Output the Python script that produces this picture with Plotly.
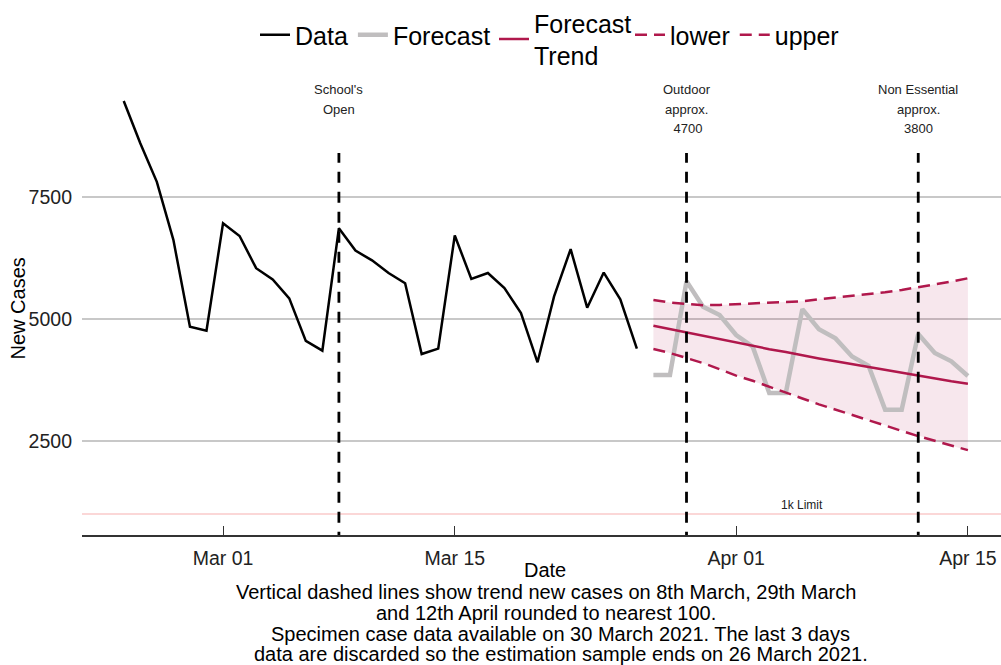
import pandas as pd
import plotly.graph_objects as go

# ---- data ----
data_start = "2021-02-23"
data_values = [9467, 8600, 7810, 6620, 4840, 4760, 6960, 6700, 6040, 5810,
               5420, 4550, 4350, 6860, 6400, 6200, 5940, 5730, 4280, 4390,
               6710, 5820, 5940, 5630, 5120, 4110, 5460, 6430, 5230, 5950,
               5400, 4390]

fc_start = "2021-03-27"
forecast_values = [3850, 3850, 5770, 5250, 5080, 4670, 4430, 3480, 3480, 5200,
                   4790, 4600, 4230, 4040, 3140, 3140, 4690, 4300, 4130, 3830]
trend_values = [4860, 4790, 4720, 4650, 4580, 4510, 4450, 4380, 4320, 4250,
                4190, 4130, 4070, 4010, 3950, 3890, 3830, 3780, 3720, 3670]
upper_values = [5389, 5334, 5307, 5280, 5287, 5301, 5307, 5321, 5342, 5363,
                5403, 5437, 5471, 5506, 5547, 5594, 5649, 5703, 5765, 5833]
lower_values = [4383, 4301, 4198, 4095, 3968, 3837, 3731, 3605, 3494, 3368,
                3249, 3137, 3028, 2920, 2813, 2705, 2597, 2505, 2400, 2309]

vline_dates = ["2021-03-08", "2021-03-29", "2021-04-12"]
vline_top = 8400
vline_labels = [["School's", "Open"], ["Outdoor", "approx.", " 4700"],
                ["Non Essential", "approx.", "3800"]]

limit_value = 1000
limit_label = "1k Limit"
limit_label_date = "2021-04-05"

x_tick_vals = ["2021-03-01", "2021-03-15", "2021-04-01", "2021-04-15"]
x_tick_text = ["Mar 01", "Mar 15", "Apr 01", "Apr 15"]
y_tick_vals = [2500, 5000, 7500]

caption_lines = [
    "Vertical dashed lines show trend new cases on 8th March, 29th March",
    "and 12th April rounded to nearest 100.",
    "Specimen case data available on 30 March 2021. The last 3 days",
    "data are discarded so the estimation sample ends on 26 March 2021.",
]

x_range = ["2021-02-20 11:30", "2021-04-17 00:00"]
y_range = [570, 10000]

# ---- build ----
data_dates = pd.date_range(data_start, periods=len(data_values), freq="D")
fc_dates = pd.date_range(fc_start, periods=len(forecast_values), freq="D")

FONT = "Liberation Sans, Arial, sans-serif"
CRIMSON = "rgb(176,24,76)"

# layout geometry (pixels)
W, H = 1001, 665
ML, MR, MT, MB = 82, 0, 75, 130
PW, PH = W - ML - MR, H - MT - MB


def px_x(p):
    return (p - ML) / PW


def px_y(p):
    return (H - MB - p) / PH


fig = go.Figure()

# 1k limit line
fig.add_trace(go.Scatter(x=[pd.Timestamp("2021-02-01"), pd.Timestamp("2021-05-01")],
                         y=[limit_value, limit_value], mode="lines",
                         line=dict(color="rgba(240,120,120,0.4)", width=1.5),
                         showlegend=False, hoverinfo="skip"))

# ribbon
fig.add_trace(go.Scatter(x=list(fc_dates) + list(fc_dates[::-1]),
                         y=upper_values + lower_values[::-1],
                         fill="toself", fillcolor="rgba(176,24,76,0.10)",
                         line=dict(width=0), mode="lines",
                         showlegend=False, hoverinfo="skip"))

fig.add_trace(go.Scatter(x=fc_dates, y=forecast_values, mode="lines",
                         name="Forecast", legend="legend", legendrank=2,
                         line=dict(color="rgb(192,190,191)", width=4.5)))

fig.add_trace(go.Scatter(x=data_dates, y=data_values, mode="lines",
                         name="Data", legend="legend", legendrank=1,
                         line=dict(color="black", width=2.5)))

fig.add_trace(go.Scatter(x=fc_dates, y=trend_values, mode="lines",
                         name="Forecast<br>Trend", legend="legend2",
                         line=dict(color=CRIMSON, width=2.5)))
fig.add_trace(go.Scatter(x=fc_dates, y=lower_values, mode="lines",
                         name="lower", legend="legend3", legendrank=1,
                         line=dict(color=CRIMSON, width=2.5, dash="12px,7px")))
fig.add_trace(go.Scatter(x=fc_dates, y=upper_values, mode="lines",
                         name="upper", legend="legend3", legendrank=2,
                         line=dict(color=CRIMSON, width=2.5, dash="12px,7px")))

for d in vline_dates:
    fig.add_trace(go.Scatter(x=[d, d], y=[0, vline_top], mode="lines",
                             line=dict(color="black", width=2.8, dash="11px,9px"),
                             showlegend=False, hoverinfo="skip"))

annotations = []
for d, lines in zip(vline_dates, vline_labels):
    for i, t in enumerate(lines):
        annotations.append(dict(x=d, y=px_y(80), xref="x", yref="paper", text=t,
                                showarrow=False, yanchor="top", xanchor="center",
                                yshift=-19.5 * i,
                                font=dict(family=FONT, size=13, color="#222")))

annotations.append(dict(x=limit_label_date, y=limit_value, xref="x", yref="y",
                        text=limit_label, showarrow=False, yanchor="bottom",
                        font=dict(family=FONT, size=12, color="#222")))

# axis titles and caption
annotations.append(dict(x=px_x(545), y=px_y(570), xref="paper", yref="paper",
                        text="Date", showarrow=False, yanchor="middle",
                        borderpad=0,
                        font=dict(family=FONT, size=20, color="black")))
cap_y = [592, 613, 634, 654]
cap_x = [546, 546, 560, 561]
for t, py, pxx in zip(caption_lines, cap_y, cap_x):
    annotations.append(dict(x=px_x(pxx), y=px_y(py),
                            xref="paper", yref="paper", text=t, showarrow=False,
                            yanchor="middle", xanchor="center", borderpad=0,
                            font=dict(family=FONT, size=20, color="black")))
annotations.append(dict(x=px_x(17.5), y=px_y(309), xref="paper", yref="paper",
                        text="New Cases", textangle=-90, showarrow=False,
                        xanchor="center", yanchor="middle",
                        font=dict(family=FONT, size=20, color="black")))

legend_font = dict(family=FONT, size=25, color="black")
fig.update_layout(
    width=W, height=H,
    margin=dict(l=ML, r=MR, t=MT, b=MB),
    plot_bgcolor="white", paper_bgcolor="white",
    font=dict(family=FONT, color="#222"),
    showlegend=True,
    legend=dict(orientation="h", x=px_x(255), xanchor="left", y=px_y(35),
                yanchor="middle", font=legend_font, itemwidth=30,
                bgcolor="rgba(0,0,0,0)"),
    legend2=dict(orientation="h", x=px_x(494), xanchor="left", y=px_y(0),
                 yanchor="top", font=legend_font, itemwidth=30,
                 bgcolor="rgba(0,0,0,0)"),
    legend3=dict(orientation="h", x=px_x(630), xanchor="left", y=px_y(35),
                 yanchor="middle", font=legend_font, itemwidth=30,
                 bgcolor="rgba(0,0,0,0)"),
    annotations=annotations,
    xaxis=dict(range=x_range, type="date", tickvals=x_tick_vals,
               ticktext=x_tick_text, showgrid=False, zeroline=False,
               showline=True, linecolor="#333", linewidth=1.5,
               ticks="inside", ticklen=9, tickcolor="#333", tickwidth=1,
               ticklabelstandoff=5,
               tickfont=dict(family=FONT, size=19.5, color="#222")),
    yaxis=dict(range=y_range, tickvals=y_tick_vals, showgrid=True,
               gridcolor="rgb(200,200,200)", gridwidth=2, zeroline=False,
               showline=False, ticks="", ticklabelstandoff=9,
               tickfont=dict(family=FONT, size=19.5, color="#222")),
)

fig.write_html("out.html",
               config={"displayModeBar": False},
               post_script="document.body.style.margin='0';"
                           "document.body.style.overflow='hidden';")
